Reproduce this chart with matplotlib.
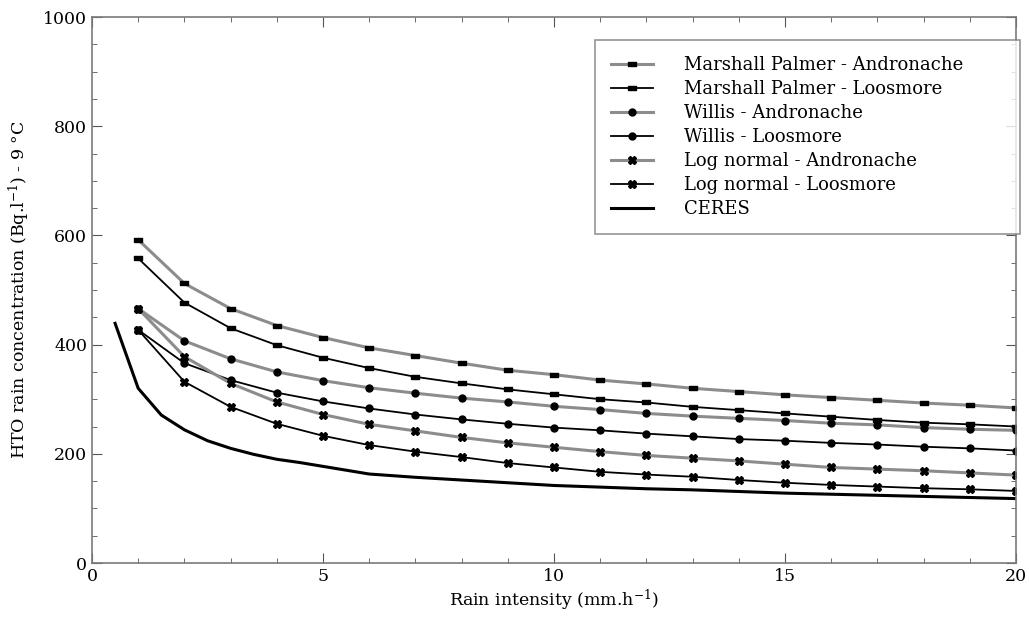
import matplotlib
matplotlib.use("Agg")
import matplotlib.pyplot as plt
from matplotlib.ticker import MultipleLocator

plt.rcParams["font.family"] = "DejaVu Serif"
plt.rcParams["mathtext.fontset"] = "dejavuserif"
plt.rcParams["mathtext.default"] = "regular"

# DATA
intensity = list(range(1, 21))

mp_andronache = [592, 512, 466, 435, 413, 394, 380, 366, 353, 345,
                 335, 328, 320, 314, 308, 303, 298, 293, 289, 284]
mp_loosmore = [558, 477, 430, 399, 376, 357, 341, 329, 318, 309,
               300, 294, 286, 280, 274, 268, 262, 257, 254, 250]
willis_andronache = [466, 407, 374, 350, 334, 321, 311, 302, 295, 287,
                     281, 274, 269, 265, 261, 256, 253, 248, 245, 243]
willis_loosmore = [427, 366, 335, 312, 296, 283, 272, 263, 255, 248,
                   243, 237, 232, 227, 224, 220, 217, 213, 210, 206]
lognorm_andronache = [466, 378, 329, 295, 272, 254, 242, 230, 220, 212,
                      204, 197, 192, 187, 181, 175, 172, 169, 165, 161]
lognorm_loosmore = [427, 332, 286, 255, 233, 216, 204, 194, 183, 175,
                    167, 162, 158, 152, 147, 143, 140, 137, 135, 132]

ceres_x = [0.5, 1, 1.5, 2, 2.5, 3, 3.5, 4, 4.5, 5, 6, 7, 8, 9, 10,
           11, 12, 13, 14, 15, 16, 17, 18, 19, 20]
ceres_y = [439, 320, 271, 244, 224, 210, 199, 190, 184, 177, 163, 157,
           152, 147, 142, 139, 136, 134, 131, 128, 126, 124, 122, 120, 118]

labels = ["Marshall Palmer - Andronache", "Marshall Palmer - Loosmore",
          "Willis - Andronache", "Willis - Loosmore",
          "Log normal - Andronache", "Log normal - Loosmore", "CERES"]

# flat rectangle marker like the reference
rect = [(-1, -0.45), (1, -0.45), (1, 0.45), (-1, 0.45), (-1, -0.45)]

fig = plt.figure(figsize=(10.29, 6.17), dpi=100)
ax = fig.add_axes([0.0894, 0.0875, 0.8980, 0.8849])

gray = "#8c8c8c"
ax.plot(intensity, mp_andronache, color=gray, lw=2.2, marker=rect, ms=5.5,
        mfc="black", mec="black", label=labels[0])
ax.plot(intensity, mp_loosmore, color="black", lw=1.3, marker=rect, ms=5.5,
        mfc="black", mec="black", label=labels[1])
ax.plot(intensity, willis_andronache, color=gray, lw=2.2, marker="o", ms=5,
        mfc="black", mec="black", label=labels[2])
ax.plot(intensity, willis_loosmore, color="black", lw=1.3, marker="o", ms=5,
        mfc="black", mec="black", label=labels[3])
ax.plot(intensity, lognorm_andronache, color=gray, lw=2.2, marker="X", ms=5.5,
        mfc="black", mec="black", label=labels[4])
ax.plot(intensity, lognorm_loosmore, color="black", lw=1.3, marker="X", ms=5.5,
        mfc="black", mec="black", label=labels[5])
ax.plot(ceres_x, ceres_y, color="black", lw=2.2, label=labels[6])

ax.set_xlim(0, 20)
ax.set_ylim(0, 1000)
ax.xaxis.set_major_locator(MultipleLocator(5))
ax.xaxis.set_minor_locator(MultipleLocator(1))
ax.yaxis.set_major_locator(MultipleLocator(200))
ax.yaxis.set_minor_locator(MultipleLocator(50))
ax.tick_params(which="both", direction="in", color="#555555",
               top=True, right=True, labelsize=12.5)
ax.tick_params(which="major", length=7)
ax.tick_params(which="minor", length=3.5)
for s in ax.spines.values():
    s.set_color("#7a7a7a")
    s.set_linewidth(1.2)

ax.set_xlabel("Rain intensity (mm.h$^{-1}$)", fontsize=12.5, labelpad=2)
ax.set_ylabel("HTO rain concentration (Bq.l$^{-1}$) - 9 °C", fontsize=12.5,
              labelpad=8)

leg = ax.legend(loc="upper left", bbox_to_anchor=(0.5444, 0, 0.4596, 0.958),
                mode="expand", fontsize=13, frameon=True, fancybox=False,
                handlelength=2.3, borderpad=0.9, labelspacing=0.33,
                handletextpad=1.7, borderaxespad=0)
leg.get_frame().set_edgecolor("#7a7a7a")
leg.get_frame().set_linewidth(1.2)

fig.savefig("out.png", dpi=100)
